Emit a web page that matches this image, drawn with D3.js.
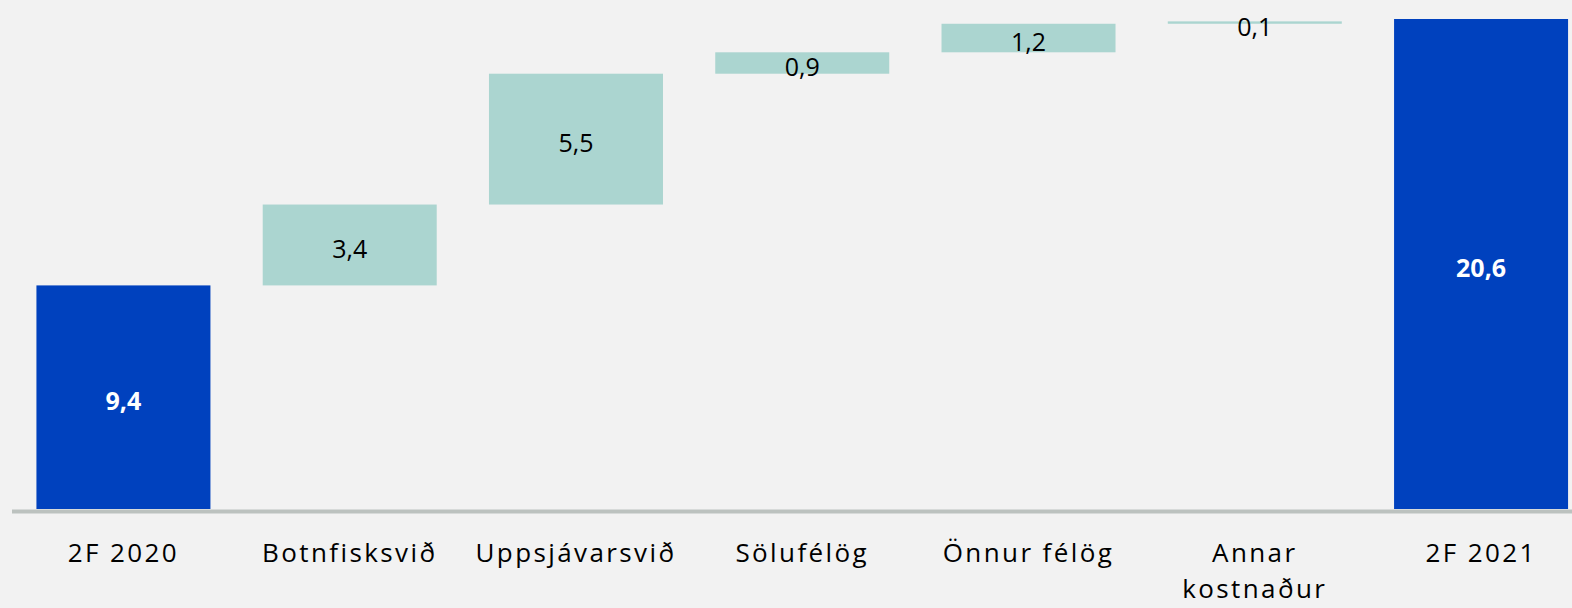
<!DOCTYPE html>
<html>
<head>
<meta charset="utf-8">
<script src="https://cdn.jsdelivr.net/npm/d3@7"></script>
<style>
  html, body { margin: 0; padding: 0; background: #F2F2F2; }
  svg { display: block; }
  text { font-family: "Open Sans", sans-serif; }
</style>
</head>
<body>
<svg id="chart" width="1572" height="608"></svg>
<script>
const categories = ["2F 2020", "Botnfisksvið", "Uppsjávarsvið", "Sölufélög", "Önnur félög", "Annar kostnaður", "2F 2021"];
const values = [9.4, 3.4, 5.5, 0.9, 1.2, 0.1, 20.6];
const kinds = ["total", "delta", "delta", "delta", "delta", "delta", "total"];
const valueLabels = ["9,4", "3,4", "5,5", "0,9", "1,2", "0,1", "20,6"];

const W = 1572, H = 608;
const svg = d3.select("#chart");

svg.append("rect").attr("width", W).attr("height", H).attr("fill", "#F2F2F2");

let running = 0;
const bars = categories.map((c, i) => {
  let y0, y1;
  if (kinds[i] === "total") { y0 = 0; y1 = values[i]; running = values[i]; }
  else { y0 = running; y1 = running + values[i]; running = y1; }
  return { cat: c, y0, y1, kind: kinds[i], label: valueLabels[i] };
});

const x = d3.scaleBand().domain(categories).range([12, 1592.5])
  .paddingInner(0.231).paddingOuter(0.108);
const y = d3.scaleLinear().domain([0, 20.6]).range([509, 19]);

const colors = { total: "#0041BE", delta: "#ABD5D0" };

svg.append("g").selectAll("rect").data(bars).join("rect")
  .attr("x", d => x(d.cat))
  .attr("width", x.bandwidth())
  .attr("y", d => y(Math.max(d.y0, d.y1)))
  .attr("height", d => Math.max(2, Math.abs(y(d.y0) - y(d.y1))))
  .attr("fill", d => colors[d.kind]);

svg.append("line").attr("x1", 12).attr("x2", W).attr("y1", 511.5).attr("y2", 511.5)
  .attr("stroke", "#BCC2BF").attr("stroke-width", 4);

svg.append("g").selectAll("text").data(bars).join("text")
  .attr("x", d => x(d.cat) + x.bandwidth() / 2)
  .attr("y", d => (y(d.y0) + y(d.y1)) / 2 + 13)
  .attr("text-anchor", "middle")
  .attr("font-size", 25)
  .attr("font-weight", d => d.kind === "total" ? 700 : 400)
  .attr("fill", d => d.kind === "total" ? "#FFFFFF" : "#000000")
  .text(d => d.label);

const catG = svg.append("g");
categories.forEach(c => {
  const cx = x(c) + x.bandwidth() / 2;
  const t = catG.append("text")
    .attr("x", cx)
    .attr("y", 562)
    .attr("text-anchor", "middle")
    .attr("font-size", 26)
    .attr("letter-spacing", 2.4)
    .attr("fill", "#000000");
  const words = c.split(" ");
  let line = [];
  let tspan = t.append("tspan").attr("x", cx).attr("dy", 0);
  words.forEach(w => {
    line.push(w);
    tspan.text(line.join(" "));
    if (tspan.node().getComputedTextLength() > x.bandwidth() + 10 && line.length > 1) {
      line.pop();
      tspan.text(line.join(" "));
      line = [w];
      tspan = t.append("tspan").attr("x", cx).attr("dy", 36).text(w);
    }
  });
});
</script>
</body>
</html>
